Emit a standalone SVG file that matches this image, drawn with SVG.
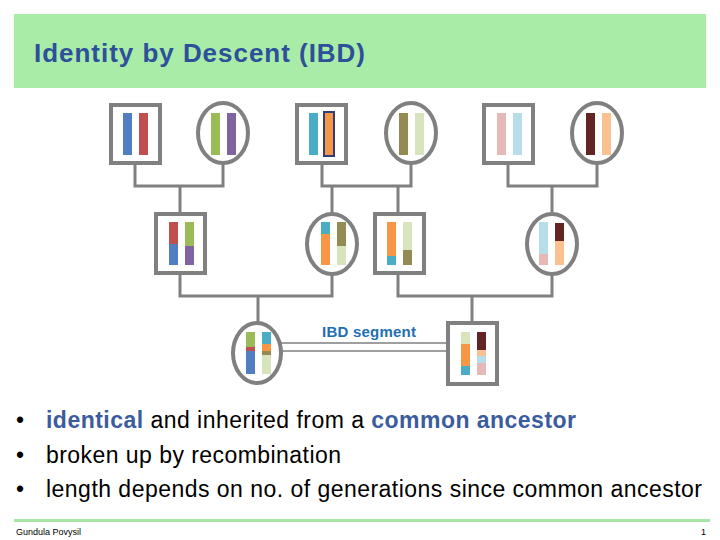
<svg xmlns="http://www.w3.org/2000/svg" width="720" height="540" viewBox="0 0 720 540">
<style>
.nd{fill:#fff;stroke:#808080;stroke-width:4}
.cn{fill:none;stroke:#808080;stroke-width:3}
.t{font-family:"Liberation Sans",Arial,sans-serif}
</style>
<rect x="0" y="0" width="720" height="540" fill="#fff"/>
<rect x="14" y="14" width="692" height="74" fill="#A8ECA8"/>
<text class="t" x="34" y="62" font-size="26" font-weight="bold" fill="#2E4F9A" textLength="331">Identity by Descent (IBD)</text>
<g id="connectors">
<path class="cn" d="M135 164V186H223V164M180 186V212"/>
<path class="cn" d="M322 164V186H411V164M332 186V213M398 186V212"/>
<path class="cn" d="M508 164V186H597V164M552 186V213"/>
<path class="cn" d="M180 275V296H332V275M258 296V322"/>
<path class="cn" d="M398 275V296H552V275M472 296V322"/>
<path fill="none" stroke="#808080" stroke-width="1.5" d="M271 343H461M271 351H461"/>
</g>
<g id="n1"><rect class="nd" x="111" y="105" width="49" height="58"/><rect x="123" y="113" width="9" height="42" fill="#4F7FC0"/><rect x="139" y="113" width="9" height="42" fill="#C0504D"/></g>
<g id="n2"><ellipse class="nd" cx="223" cy="133" rx="25" ry="30"/><rect x="211" y="113" width="9" height="42" fill="#9BBB59"/><rect x="227" y="113" width="9" height="42" fill="#8064A2"/></g>
<g id="n3"><rect class="nd" x="297" y="105" width="49" height="58"/><rect x="309" y="113" width="9" height="42" fill="#4BACC6"/><rect x="324" y="112" width="10" height="44" fill="#F79646" stroke="#2E3F7A" stroke-width="2"/></g>
<g id="n4"><ellipse class="nd" cx="411" cy="133" rx="25" ry="30"/><rect x="399" y="113" width="9" height="42" fill="#948A54"/><rect x="415" y="113" width="9" height="42" fill="#D7E4BD"/></g>
<g id="n5"><rect class="nd" x="484" y="105" width="49" height="58"/><rect x="497" y="113" width="9" height="42" fill="#E6B9B8"/><rect x="513" y="113" width="9" height="42" fill="#B7DDE8"/></g>
<g id="n6"><ellipse class="nd" cx="597" cy="133" rx="25" ry="30"/><rect x="586" y="113" width="9" height="42" fill="#632523"/><rect x="602" y="113" width="9" height="42" fill="#FAC090"/></g>
<g id="n7"><rect class="nd" x="156" y="214" width="49" height="59"/><rect x="169" y="222" width="9" height="22" fill="#C0504D"/><rect x="169" y="244" width="9" height="21" fill="#4F7FC0"/><rect x="185" y="222" width="9" height="24" fill="#9BBB59"/><rect x="185" y="246" width="9" height="19" fill="#8064A2"/></g>
<g id="n8"><ellipse class="nd" cx="332" cy="244" rx="25" ry="30"/><rect x="321" y="222" width="9" height="12" fill="#4BACC6"/><rect x="321" y="234" width="9" height="31" fill="#F79646"/><rect x="337" y="222" width="9" height="24" fill="#948A54"/><rect x="337" y="246" width="9" height="19" fill="#D7E4BD"/></g>
<g id="n9"><rect class="nd" x="375" y="214" width="49" height="59"/><rect x="387" y="222" width="9" height="34" fill="#F79646"/><rect x="387" y="256" width="9" height="9" fill="#4BACC6"/><rect x="403" y="222" width="9" height="28" fill="#D7E4BD"/><rect x="403" y="250" width="9" height="15" fill="#948A54"/></g>
<g id="n10"><ellipse class="nd" cx="552" cy="244" rx="25" ry="30"/><rect x="539" y="222" width="9" height="32" fill="#B7DDE8"/><rect x="539" y="254" width="9" height="11" fill="#E6B9B8"/><rect x="555" y="223" width="9" height="18" fill="#632523"/><rect x="555" y="241" width="9" height="24" fill="#FAC090"/></g>
<g id="n11"><ellipse class="nd" cx="257" cy="353" rx="24" ry="30"/><rect x="246" y="332" width="9" height="15" fill="#9BBB59"/><rect x="246" y="347" width="9" height="4" fill="#C0504D"/><rect x="246" y="351" width="9" height="23" fill="#4F7FC0"/><rect x="262" y="332" width="9" height="12" fill="#4BACC6"/><rect x="262" y="344" width="9" height="7" fill="#F79646"/><rect x="262" y="351" width="9" height="4" fill="#948A54"/><rect x="262" y="355" width="9" height="19" fill="#D7E4BD"/></g>
<g id="n12"><rect class="nd" x="448" y="323" width="49" height="61"/><rect x="461" y="332" width="9" height="12" fill="#D7E4BD"/><rect x="461" y="344" width="9" height="22" fill="#F79646"/><rect x="461" y="366" width="9" height="9" fill="#4BACC6"/><rect x="477" y="332" width="9" height="18" fill="#632523"/><rect x="477" y="350" width="9" height="6" fill="#FAC090"/><rect x="477" y="356" width="9" height="7" fill="#B7DDE8"/><rect x="477" y="363" width="9" height="12" fill="#E6B9B8"/></g>
<text class="t" x="322" y="337" font-size="15" font-weight="bold" fill="#1F6FB5" textLength="94">IBD segment</text>
<g class="t" font-size="23" fill="#000">
<text x="16" y="428">•</text><text x="46" y="428" textLength="530"><tspan fill="#3B5C9E" font-weight="bold">identical</tspan> and inherited from a <tspan fill="#3B5C9E" font-weight="bold">common ancestor</tspan></text>
<text x="16" y="463">•</text><text x="46" y="463" textLength="295">broken up by recombination</text>
<text x="16" y="497">•</text><text x="46" y="497" textLength="656">length depends on no. of generations since common ancestor</text>
</g>
<rect x="14" y="519" width="696" height="3" fill="#A8E6A8"/>
<text class="t" x="16" y="535" font-size="9">Gundula Povysil</text>
<text class="t" x="706" y="535" font-size="9" text-anchor="end">1</text>
</svg>
